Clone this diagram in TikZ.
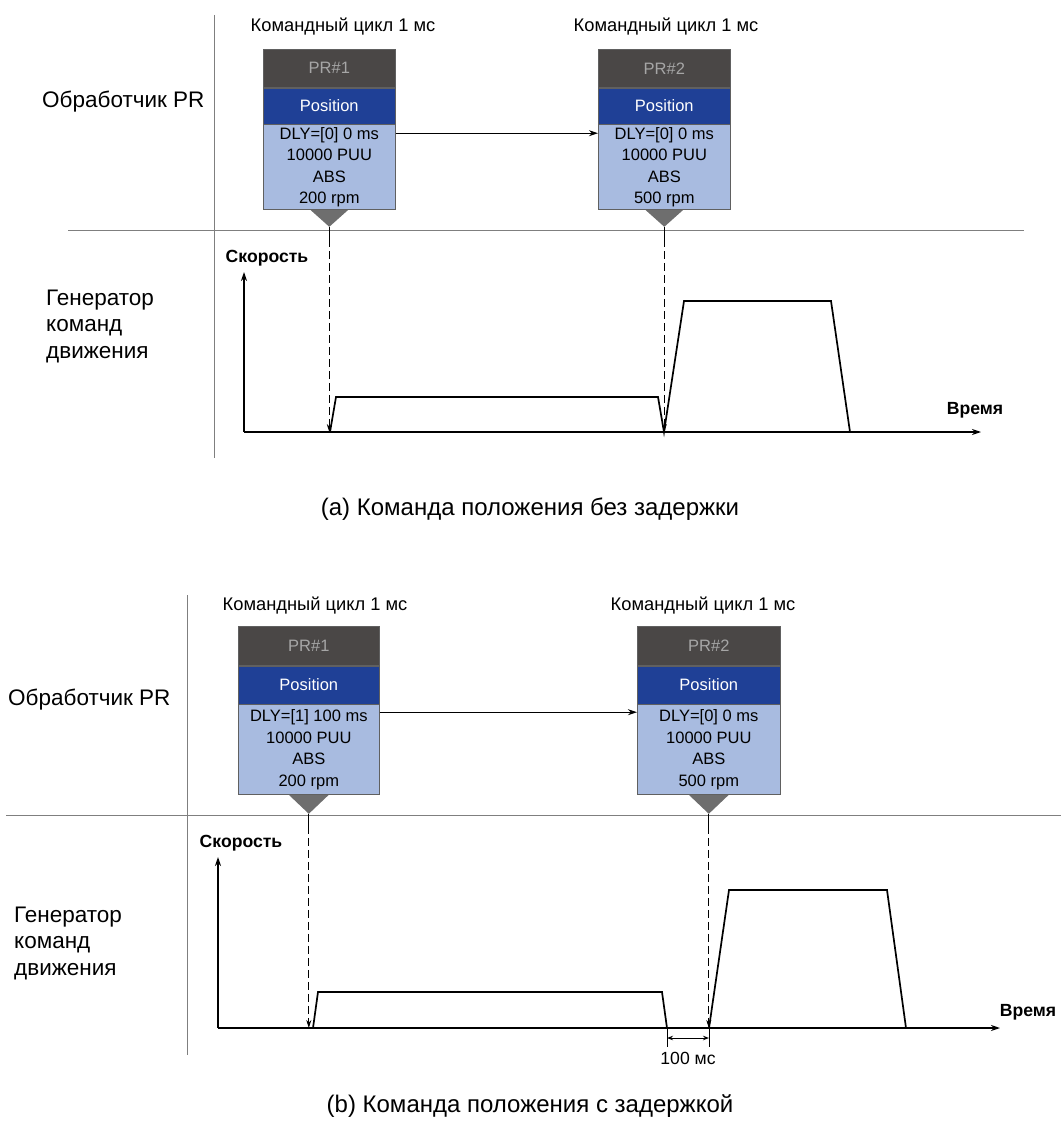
\documentclass[tikz,border=0pt]{standalone}
\usepackage{fontspec}
\setmainfont{Liberation Sans}
\usetikzlibrary{arrows.meta}
\definecolor{hdr}{HTML}{4A4746}
\definecolor{hdrtxt}{HTML}{A6A6A6}
\definecolor{posblue}{HTML}{1F4096}
\definecolor{lightblue}{HTML}{A8BBE0}
\definecolor{trigray}{HTML}{6E6E6E}
\definecolor{sepgray}{HTML}{7F7F7F}
\definecolor{bordergray}{HTML}{606060}
\begin{document}
\begin{tikzpicture}[x=1pt,y=-1pt,
  hdrbox/.style={fill=hdr,draw=bordergray,line width=0.6pt,anchor=north west,inner sep=0pt,text=hdrtxt,font=\fontsize{16.5}{18}\selectfont},
  posbox/.style={fill=posblue,draw=bordergray,line width=0.6pt,anchor=north west,inner sep=0pt,text=white,font=\fontsize{16.5}{18}\selectfont},
  parbox/.style={fill=lightblue,draw=bordergray,line width=0.6pt,anchor=north west,inner sep=0pt,align=center,font=\fontsize{16.5}{21.5}\selectfont},
  titletxt/.style={font=\fontsize{18.3}{21}\selectfont,inner sep=0pt},
  lbltxt/.style={font=\fontsize{22.5}{26.5}\selectfont,inner sep=0pt,align=left,anchor=west},
  axlbl/.style={font=\bfseries\fontsize{17.6}{19}\selectfont,inner sep=0pt},
  captxt/.style={font=\fontsize{24}{26}\selectfont,inner sep=0pt},
  sep/.style={draw=sepgray,line width=0.9pt},
  axis/.style={line width=1.3pt,-{Stealth[length=9pt,width=6pt]}},
  prof/.style={line width=1.7pt,line join=miter},
  dashln/.style={dashed,dash pattern=on 8pt off 4pt,line width=1pt,-{Stealth[length=8pt,width=5pt]}},
  tri/.style={fill=trigray}
]
\useasboundingbox (0,0) rectangle (1061,1131);

% ================= Panel (a) =================
\draw[sep] (214,15) -- (214,458);
\draw[sep] (68,230) -- (1024,230);

\node[lbltxt] (aproc) at (42,102) {Обработчик PR};
\node[lbltxt] (agen) at (46,326) {Генератор\\команд\\движения};

% PR#1
\node[titletxt] (at1) at (343,27) {Командный цикл 1 мс};
\node[hdrbox,minimum width=132,minimum height=38] (a1h) at (263,49) {PR\#1};
\node[posbox,minimum width=132,minimum height=36] (a1p) at (a1h.south west) {Position};
\node[parbox,minimum width=132,minimum height=85] (a1l) at (a1p.south west) {DLY=[0] 0 ms\\10000 PUU\\ABS\\200 rpm};
\fill[tri] ([xshift=-19pt]a1l.south) -- ([xshift=19pt]a1l.south) -- ([yshift=-17pt]a1l.south) -- cycle;
\coordinate (a1t) at ([yshift=-17pt]a1l.south);

% PR#2
\node[titletxt] (at2) at (666,27) {Командный цикл 1 мс};
\node[hdrbox,minimum width=132,minimum height=38] (a2h) at (598,49) {PR\#2};
\node[posbox,minimum width=132,minimum height=36] (a2p) at (a2h.south west) {Position};
\node[parbox,minimum width=132,minimum height=85] (a2l) at (a2p.south west) {DLY=[0] 0 ms\\10000 PUU\\ABS\\500 rpm};
\fill[tri] ([xshift=-19pt]a2l.south) -- ([xshift=19pt]a2l.south) -- ([yshift=-17pt]a2l.south) -- cycle;
\coordinate (a2t) at ([yshift=-17pt]a2l.south);

\draw[line width=1.3pt,-{Stealth[length=9pt,width=6pt]}] ([yshift=-9pt]a1l.north east) -- ([yshift=-9pt]a2l.north west);

% axes
\coordinate (ao) at (244,432);
\coordinate (ayt) at (244,272);
\coordinate (axr) at (981,432);
\draw[axis] (ao) -- (ayt);
\draw[axis] (ao) -- (axr);
\node[axlbl] (avel) at (267,258) {Скорость};
\node[axlbl] (atime) at (975,410) {Время};

% profile
\draw[prof] (330,432) -- (336,397) -- (658,397) -- (664,432) -- (684,301) -- (831,301) -- (850,432);

% dashed markers
\draw[line width=1pt] (a1t) -- ([yshift=-12pt]a1t);
\draw[line width=1pt] (a2t) -- ([yshift=-12pt]a2t);
\draw[dashln] ([yshift=-12pt]a1t) -- (a1t |- ao);
\draw[dashln] ([yshift=-12pt]a2t) -- (a2t |- ao);

\node[captxt] (acap) at (530,509) {(a) Команда положения без задержки};

% ================= Panel (b) =================
\draw[sep] (187,595) -- (187,1055);
\draw[sep] (6,815) -- (1061,815);

\node[lbltxt] (bproc) at (8,700) {Обработчик PR};
\node[lbltxt] (bgen) at (14,943) {Генератор\\команд\\движения};

% PR#1
\node[titletxt] (bt1) at (315,606) {Командный цикл 1 мс};
\node[hdrbox,minimum width=141,minimum height=39] (b1h) at (238,626) {PR\#1};
\node[posbox,minimum width=141,minimum height=38] (b1p) at (b1h.south west) {Position};
\node[parbox,minimum width=141,minimum height=90] (b1l) at (b1p.south west) {DLY=[1] 100 ms\\10000 PUU\\ABS\\200 rpm};
\fill[tri] ([xshift=-20pt]b1l.south) -- ([xshift=20pt]b1l.south) -- ([yshift=-19pt]b1l.south) -- cycle;
\coordinate (b1t) at ([yshift=-19pt]b1l.south);

% PR#2
\node[titletxt] (bt2) at (703,606) {Командный цикл 1 мс};
\node[hdrbox,minimum width=143,minimum height=39] (b2h) at (637,626) {PR\#2};
\node[posbox,minimum width=143,minimum height=38] (b2p) at (b2h.south west) {Position};
\node[parbox,minimum width=143,minimum height=90] (b2l) at (b2p.south west) {DLY=[0] 0 ms\\10000 PUU\\ABS\\500 rpm};
\fill[tri] ([xshift=-20pt]b2l.south) -- ([xshift=20pt]b2l.south) -- ([yshift=-19pt]b2l.south) -- cycle;
\coordinate (b2t) at ([yshift=-19pt]b2l.south);

\draw[line width=1.3pt,-{Stealth[length=9pt,width=6pt]}] ([yshift=-8pt]b1l.north east) -- ([yshift=-8pt]b2l.north west);

% axes
\coordinate (bo) at (218,1028);
\coordinate (byt) at (218,857);
\coordinate (bxr) at (1000,1028);
\draw[axis] (bo) -- (byt);
\draw[axis] (bo) -- (bxr);
\node[axlbl] (bvel) at (241,843) {Скорость};
\node[axlbl] (btime) at (1028,1012) {Время};

% profile
\draw[prof] (313,1028) -- (318,992) -- (662,992) -- (667,1028);
\draw[prof] (709,1028) -- (729,890) -- (887,890) -- (906,1028);

% dashed markers
\draw[line width=1pt] (b1t) -- ([yshift=-12pt]b1t);
\draw[line width=1pt] (b2t) -- ([yshift=-12pt]b2t);
\draw[dashln] ([yshift=-12pt]b1t) -- (b1t |- bo);
\draw[dashln] ([yshift=-12pt]b2t) -- (b2t |- bo);

% 100 ms dimension
\coordinate (dl) at (667,1028);
\coordinate (dr) at (709,1028);
\draw[line width=1pt] (dl) -- ([yshift=-19pt]dl);
\draw[line width=1pt] (dr) -- ([yshift=-19pt]dr);
\draw[line width=1pt,{Stealth[length=6pt,width=4.5pt]}-{Stealth[length=6pt,width=4.5pt]}] ([yshift=-10pt]dl) -- ([yshift=-10pt]dr);
\node[font=\fontsize{17.6}{19}\selectfont,inner sep=0pt] (dtxt) at (688,1058) {100 мс};

\node[captxt] (bcap) at (530,1106) {(b) Команда положения с задержкой};
\end{tikzpicture}
\end{document}
